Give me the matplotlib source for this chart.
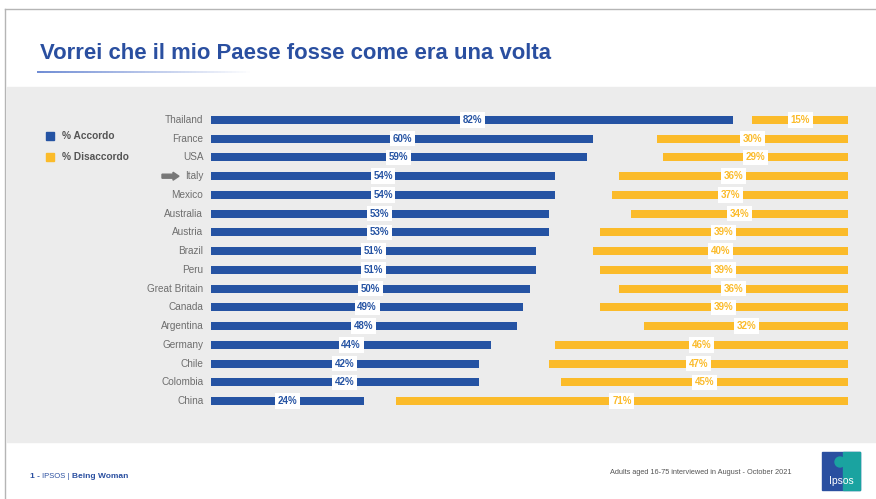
import matplotlib.pyplot as plt
from matplotlib.patches import Rectangle, FancyArrow
import numpy as np

plt.rcParams['font.family'] = ['Liberation Sans', 'DejaVu Sans']

# data
countries = ["Thailand", "France", "USA", "Italy", "Mexico", "Australia", "Austria",
             "Brazil", "Peru", "Great Britain", "Canada", "Argentina", "Germany",
             "Chile", "Colombia", "China"]
accordo = [82, 60, 59, 54, 54, 53, 53, 51, 51, 50, 49, 48, 44, 42, 42, 24]
disaccordo = [15, 30, 29, 36, 37, 34, 39, 40, 39, 36, 39, 32, 46, 47, 45, 71]

BLUE = "#2553a3"
YELLOW = "#fbbb2a"
GREY_BG = "#ececec"

W, H = 876, 499
fig = plt.figure(figsize=(W / 100, H / 100), dpi=100)
fig.patch.set_facecolor("white")

def fx(px):
    return px / W

def fy(py):
    return 1 - py / H

# background layer in pixel coords
bg = fig.add_axes([0, 0, 1, 1])
bg.set_xlim(0, W)
bg.set_ylim(H, 0)
bg.axis("off")
bg.add_patch(Rectangle((7, 87), W - 7, 355, color=GREY_BG, zorder=0))
# slide frame
bg.plot([5, 5], [9, H], color="#b5b5b5", lw=1)
bg.plot([5, W], [9, 9], color="#b5b5b5", lw=1)
# title
bg.text(40, 53, "Vorrei che il mio Paese fosse come era una volta", color="#2a4fa0",
        fontsize=15.9, fontweight="bold", va="center", ha="left")
# gradient underline
xs = np.linspace(37, 250, 60)
for i in range(len(xs) - 1):
    a = 1 - i / (len(xs) - 1)
    bg.plot(xs[i:i + 2], [72, 72], color="#5577cc", alpha=a, lw=1.2, solid_capstyle="butt")

# legend
bg.add_patch(Rectangle((46, 132), 8, 8, color=BLUE))
bg.text(62, 136, "% Accordo", fontsize=7.3, color="#555555", va="center", fontweight="bold")
bg.add_patch(Rectangle((46, 153), 8, 8, color=YELLOW))
bg.text(62, 157, "% Disaccordo", fontsize=7.3, color="#555555", va="center", fontweight="bold")

# footer
bg.text(30, 476, "1 -", fontsize=6, color="#2a4fa0", fontweight="bold", va="center")
bg.text(42, 476, "IPSOS | ", fontsize=5.5, color="#2a4fa0", va="center")
bg.text(72, 476, "Being Woman", fontsize=6, color="#2a4fa0", fontweight="bold", va="center")
bg.text(792, 472, "Adults aged 16-75 interviewed in August - October 2021", fontsize=5.3,
        color="#555555", va="center", ha="right")
# logo
bg.add_patch(Rectangle((822, 452), 38, 38, color="#2a4fa0"))
bg.add_patch(Rectangle((843, 452), 17, 38, color="#1aa3a0"))
bg.add_patch(plt.Circle((840, 462), 5, color="#1aa3a0"))
bg.text(841, 481, "Ipsos", fontsize=7.5, color="white", ha="center", va="center")

# main bar chart axes: x 211..848 px = 0..100 %, rows 120..401 px
row0, rowN = 120, 401
step = (rowN - row0) / (len(countries) - 1)
top = row0 - step / 2
bottom = rowN + step / 2
ax = fig.add_axes([fx(211), fy(bottom), fx(848 - 211), (bottom - top) / H])
ax.set_xlim(0, 100)
ax.set_ylim(len(countries) - 0.5, -0.5)
ax.axis("off")
ax.patch.set_alpha(0)

y = np.arange(len(countries))
acc = np.array(accordo)
dis = np.array(disaccordo)
ax.barh(y, acc, height=0.43, color=BLUE, left=0)
ax.barh(y, dis, height=0.43, color=YELLOW, left=100 - dis)

box = dict(boxstyle="square,pad=0.28", fc="white", ec="none")
for i in range(len(countries)):
    ax.text(acc[i] / 2, y[i], f"{acc[i]}%", ha="center", va="center", fontsize=7,
            fontweight="bold", color=BLUE, bbox=box)
    ax.text(100 - dis[i] / 2, y[i], f"{dis[i]}%", ha="center", va="center", fontsize=7,
            fontweight="bold", color=YELLOW, bbox=box)
    ax.text(-1.2, y[i], countries[i], ha="right", va="center", fontsize=7.2,
            color="#6e6e6e")

# arrow pointing at Italy
iy = row0 + step * countries.index("Italy")
bg.add_patch(FancyArrow(162, iy, 11, 0, width=4, head_width=8, head_length=6,
                        color="#777777", length_includes_head=False))

fig.savefig("out.png", dpi=100)
